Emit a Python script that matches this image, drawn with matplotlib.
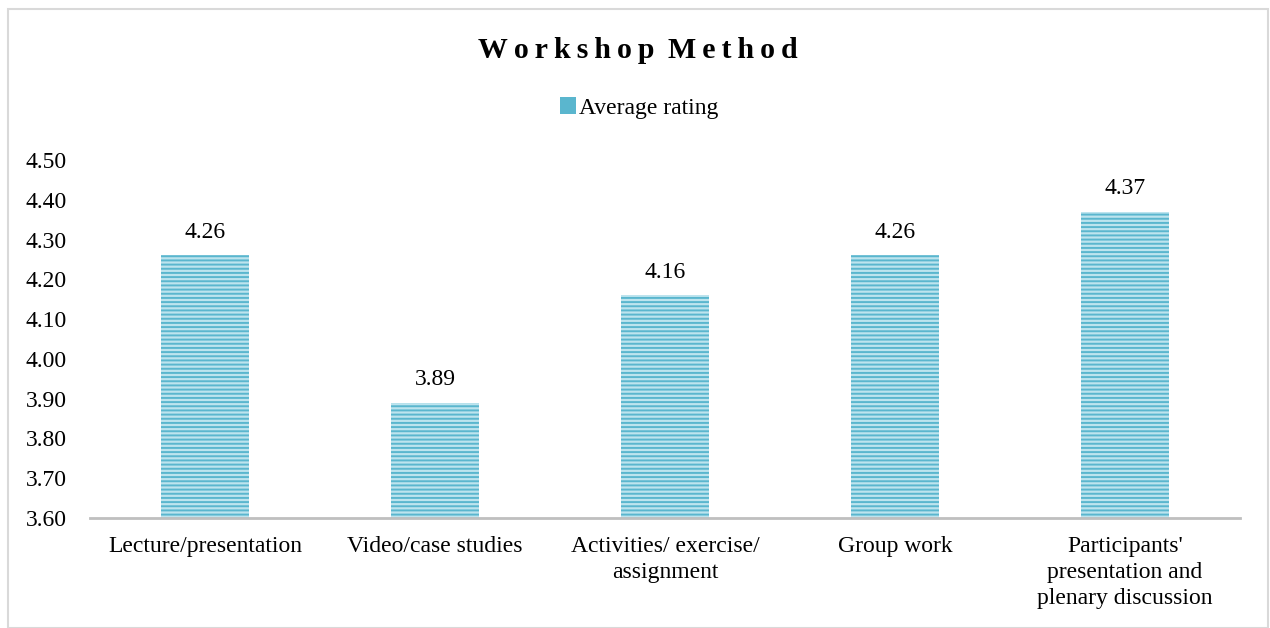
import matplotlib
matplotlib.use("Agg")
import matplotlib.pyplot as plt
from matplotlib.patches import Rectangle, Patch

categories = ["Lecture/presentation", "Video/case studies", "Activities/ exercise/\nassignment",
              "Group work", "Participants'\npresentation and\nplenary discussion"]
values = [4.26, 3.89, 4.16, 4.26, 4.37]
value_labels = ["4.26", "3.89", "4.16", "4.26", "4.37"]
yticks = [3.6, 3.7, 3.8, 3.9, 4.0, 4.1, 4.2, 4.3, 4.4, 4.5]
series_name = "Average rating"
title = "Workshop Method"

plt.rcParams['font.family'] = ['Liberation Serif', 'DejaVu Serif']
plt.rcParams['hatch.linewidth'] = 1.4
plt.rcParams['hatch.color'] = '#5ab6ce'

fig = plt.figure(figsize=(12.7, 6.28), dpi=100)
ax = fig.add_axes([90/1270, 110/628, 1150/1270, 358/628])

x = list(range(len(categories)))
bars = ax.bar(x, values, width=0.385, bottom=0, color='#bde4ee', edgecolor='#5ab6ce',
              linewidth=0, hatch='----')
ax.set_ylim(3.6, 4.5)
ax.set_xlim(-0.5, len(categories)-0.5)
ax.set_yticks(yticks)
ax.set_yticklabels([f"{v:.2f}" for v in yticks], fontsize=17)
ax.set_xticks(x)
ax.set_xticklabels(categories, fontsize=17, linespacing=1.3)
ax.tick_params(axis='y', length=0, pad=17)
ax.tick_params(axis='x', length=0, pad=13)
for s in ['top', 'right', 'left']:
    ax.spines[s].set_visible(False)
ax.spines['bottom'].set_color('#bfbfbf')
ax.spines['bottom'].set_linewidth(2)

for xi, v, lab in zip(x, values, value_labels):
    ax.annotate(lab, (xi, v), xytext=(0, 9), textcoords='offset points',
                ha='center', va='bottom', fontsize=17)

spaced = "\u2009 ".join("\u2009".join(list(w)) for w in title.split(" "))
fig.text(0.502, 1 - 50/628, spaced, ha='center', va='center', fontsize=21.5, fontweight='bold')

handle = Patch(facecolor='#5ab6ce', edgecolor='#5ab6ce', linewidth=0)
fig.legend([handle], [series_name], loc='center', bbox_to_anchor=(0.503, 1 - 108/628),
           frameon=False, fontsize=17, handlelength=0.7, handleheight=0.7, handletextpad=0.1)

fig.patches.append(Rectangle((8/1270, 0), 1 - 10/1270, 1 - 9/628, transform=fig.transFigure,
                             fill=False, edgecolor='#d9d9d9', linewidth=1.5))

fig.savefig("out.png", dpi=100)
